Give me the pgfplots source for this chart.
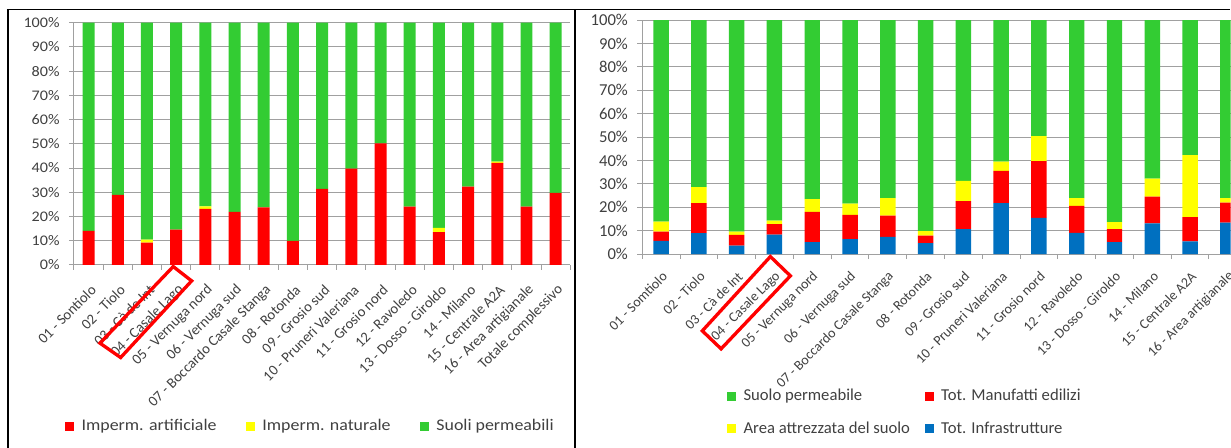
\documentclass[border=0pt]{standalone}
\usepackage{pgfplots}
\pgfplotsset{compat=1.18}
\usepackage{pgfplotstable}
\usepackage{fontspec}
\setmainfont{Carlito}
\newfontfamily\wideC[FakeStretch=1.1]{Carlito}

\definecolor{verde}{RGB}{51,204,51}
\definecolor{rosso}{RGB}{255,0,0}
\definecolor{giallo}{RGB}{255,255,0}
\definecolor{blu}{RGB}{0,112,192}
\definecolor{griglia}{RGB}{160,160,160}
\definecolor{testo}{RGB}{64,64,64}

% Impermeabilizzazione per ambito (%)
\pgfplotstableread{
id art  nat  perm
0  14.0 0.0  86.0
1  28.9 0.0  71.1
2  9.2  1.2  89.6
3  14.6 0.0  85.4
4  23.1 1.1  75.8
5  21.9 0.0  78.1
6  23.7 0.0  76.3
7  9.9  0.0  90.1
8  31.4 0.0  68.6
9  39.7 0.0  60.3
10 50.2 0.0  49.8
11 24.1 0.0  75.9
12 13.5 1.8  84.7
13 32.3 0.0  67.7
14 42.1 0.5  57.4
15 24.1 0.0  75.9
16 29.7 0.0  70.3
}\impermtab

% Uso del suolo per ambito (%)
\pgfplotstableread{
id infra manuf attr perm
0  5.7  3.9  4.3  86.1
1  9.0  12.8 6.8  71.4
2  3.7  4.5  1.4  90.4
3  8.4  4.4  1.5  85.7
4  5.1  13.0 5.4  76.5
5  6.4  10.4 4.8  78.4
6  7.4  9.1  7.4  76.1
7  4.7  3.2  2.0  90.1
8  10.7 12.0 8.6  68.7
9  21.8 13.8 3.9  60.5
10 15.5 24.2 10.7 49.6
11 9.1  11.5 3.3  76.1
12 5.1  5.6  3.0  86.3
13 13.2 11.4 7.7  67.7
14 5.5  10.3 26.5 57.7
15 13.5 8.5  1.9  76.1
}\usotab

\newcommand\legsq[1]{\addlegendimage{legend image code/.code={\fill[#1] (0pt,-3pt) rectangle (6pt,3pt);}}}

\pgfplotsset{
  pannello/.style={
    scale only axis,
    ybar stacked,
    ymin=0, ymax=100,
    ytick={0,10,...,100},
    yticklabels={0\%,10\%,20\%,30\%,40\%,50\%,60\%,70\%,80\%,90\%,100\%},
    xtick={0,...,16},
    axis lines*=left,
    axis line style={draw=griglia, line width=0.75pt},
    tick align=outside,
    ymajorgrids,
    major grid style={draw=griglia, line width=0.75pt},
    ytick style={draw=griglia, line width=0.75pt},
    major tick length=3.75pt,
    xtick style={draw=none},
    extra x ticks={-0.5,0.5,...,16.5},
    extra x tick labels={},
    extra x tick style={grid=none, xtick style={draw=griglia, line width=0.75pt}},
    tick label style={text=testo},
    yticklabel style={xshift=-3.5pt},
    legend cell align=left,
    legend style={draw=none, fill=none, text=testo,
      /tikz/every odd column/.append style={column sep=4pt}},
  }
}

\begin{document}
\begin{tikzpicture}
\begin{scope}[x=0.75pt, y=0.75pt]
\useasboundingbox (0,0) rectangle (1231,448);
% cornice
\draw[line width=1.7pt] (8.2,0) -- (8.2,438.6);
\draw[line width=1pt] (7,438.6) -- (1231,438.6);
\draw[line width=1.5pt] (575,0) -- (575,439);
\end{scope}

% pannello sinistro
\begin{axis}[
  pannello,
  at={(55.5pt,137.25pt)}, anchor=south west,
  width=372.4pt, height=181.7pt,
  xmin=-0.5, xmax=16.5,
  bar width=9pt,
  yticklabel style={font=\wideC\fontsize{11}{13}\selectfont},
  xticklabel style={font=\fontsize{11}{13}\selectfont, xshift=4.5pt, yshift=-12.5pt, rotate=45, anchor=east, inner sep=1pt},
  xticklabels={01 - Sontiolo, 02 - Tiolo, 03 - Cà de Int, 04 - Casale Lago, 05 - Vernuga nord, 06 - Vernuga sud, 07 - Boccardo Casale Stanga, 08 - Rotonda, 09 - Grosio sud, 10 - Pruneri Valeriana, 11 - Grosio nord, 12 - Ravoledo, 13 - Dosso - Giroldo, 14 - Milano, 15 - Centrale A2A, 16 - Area artigianale, Totale complessivo},
  legend columns=3,
  legend style={at={(0.477,-0.665)}, anchor=center, font=\wideC\fontsize{12.2}{14}\selectfont,
    /tikz/every even column/.append style={column sep=20pt}},
]
\addplot[fill=rosso, draw=none, forget plot] table[x=id, y=art] {\impermtab};
\addplot[fill=giallo, draw=none, forget plot] table[x=id, y=nat] {\impermtab};
\addplot[fill=verde, draw=none, forget plot] table[x=id, y=perm] {\impermtab};
\legsq{rosso}\addlegendentry{Imperm. artificiale}
\legsq{giallo}\addlegendentry{Imperm. naturale}
\legsq{verde}\addlegendentry{Suoli permeabili}
\end{axis}

% pannello destro (tagliato al bordo destro dopo la categoria 16)
\begin{axis}[
  pannello,
  at={(481.875pt,145.275pt)}, anchor=south west,
  width=441.4pt, height=175.7pt,
  xmin=-0.5, xmax=15.07,
  bar width=11.6pt,
  yticklabel style={font=\fontsize{12.5}{15}\selectfont},
  xticklabel style={font=\fontsize{10.5}{12}\selectfont, xshift=3.5pt, yshift=-10.5pt, rotate=45, anchor=east, inner sep=1pt, overlay},
  xticklabels={01 - Somtiolo, 02 - Tiolo, 03 - Cà de Int, 04 - Casale Lago, 05 - Vernuga nord, 06 - Vernuga sud, 07 - Boccardo Casale Stanga, 08 - Rotonda, 09 - Grosio sud, 10 - Pruneri Valeriana, 11 - Grosio nord, 12 - Ravoledo, 13 - Dosso - Giroldo, 14 - Milano, 15 - Centrale A2A, 16 - Area artigianale},
  legend columns=2,
  legend style={at={(0.447,-0.675)}, anchor=center, font=\fontsize{12.5}{15}\selectfont,
    row sep=10pt, /tikz/every even column/.append style={column sep=9pt}},
]
\addplot[fill=blu, draw=none, forget plot] table[x=id, y=infra] {\usotab};
\addplot[fill=rosso, draw=none, forget plot] table[x=id, y=manuf] {\usotab};
\addplot[fill=giallo, draw=none, forget plot] table[x=id, y=attr] {\usotab};
\addplot[fill=verde, draw=none, forget plot] table[x=id, y=perm] {\usotab};
\legsq{verde}\addlegendentry{Suolo permeabile}
\legsq{rosso}\addlegendentry{Tot. Manufatti edilizi}
\legsq{giallo}\addlegendentry{Area attrezzata del suolo}
\legsq{blu}\addlegendentry{Tot. Infrastrutture}
\end{axis}

% evidenziazione dell'ambito 04
\begin{scope}[x=0.75pt, y=0.75pt]
\draw[rosso, line width=2.5pt, line join=miter] (173.3,181.3) -- (191.7,167) -- (120.7,90.3) -- (100,104.7) -- cycle;
\draw[rosso, line width=2.5pt, line join=miter] (770.7,191.3) -- (790.7,172) -- (721.4,99) -- (702.6,117) -- cycle;
\end{scope}
\end{tikzpicture}
\end{document}
